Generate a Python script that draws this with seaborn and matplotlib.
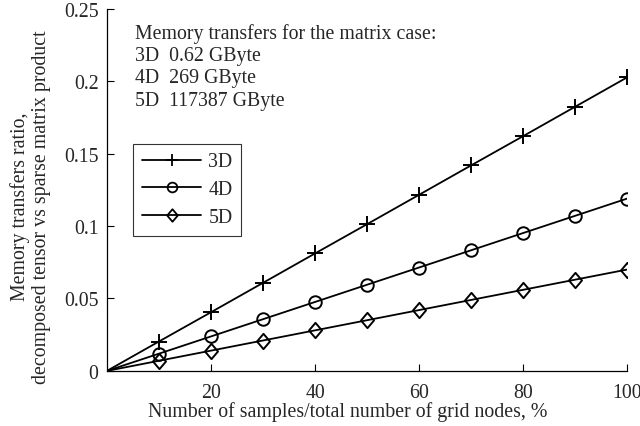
import matplotlib
matplotlib.use("Agg")
import matplotlib.pyplot as plt
from matplotlib.path import Path
import seaborn as sns
import pandas as pd

x = [0, 10, 20, 30, 40, 50, 60, 70, 80, 90, 100]
y3 = [0, 0.0203, 0.0405, 0.0608, 0.0811, 0.1013, 0.1216, 0.1419, 0.1621, 0.1824, 0.2027]
y4 = [0, 0.0119, 0.0238, 0.0357, 0.0476, 0.0595, 0.0714, 0.0833, 0.0952, 0.1071, 0.1190]
y5 = [0, 0.0070, 0.0140, 0.0210, 0.0280, 0.0350, 0.0420, 0.0490, 0.0560, 0.0630, 0.0700]
series = ["3D", "4D", "5D"]
notes = ["Memory transfers for the matrix case:", "3D  0.62 GByte", "4D  269 GByte", "5D  117387 GByte"]
xticks = [20, 40, 60, 80, 100]
yticks = [0, 0.05, 0.1, 0.15, 0.2, 0.25]
ytick_labels = ["0", "0.05", "0.1", "0.15", "0.2", "0.25"]

sns.set_style("ticks")
plt.rcParams["font.family"] = ["Liberation Serif", "DejaVu Serif"]

diamond = Path([(0, 1), (0.85, 0), (0, -1), (-0.85, 0), (0, 1)],
               [Path.MOVETO, Path.LINETO, Path.LINETO, Path.LINETO, Path.CLOSEPOLY])
markers = ["+", "o", diamond]
msizes = [12, 9, 11]
leg_msizes = [9, 7, 9]

fig = plt.figure(figsize=(6.4, 4.27), dpi=100)
ax = fig.add_axes([0.167, 0.129, 0.813, 0.848])

for name, ys, m, ms in zip(series, [y3, y4, y5], markers, msizes):
    df = pd.DataFrame({"x": x, "y": ys})
    sns.lineplot(data=df, x="x", y="y", ax=ax, color="black", lw=1.3, label=name)
    line = ax.lines[-1]
    line.set_marker(m)
    line.set_markevery(list(range(1, len(x))))
    line.set_markerfacecolor("none")
    line.set_markeredgecolor("black")
    line.set_markeredgewidth(1.4)
    line.set_markersize(ms)

ax.set_xlim(0, 100)
ax.set_ylim(0, 0.25)
ax.set_xticks(xticks)
ax.set_xticklabels([str(t) for t in xticks])
ax.set_yticks(yticks)
ax.set_yticklabels(ytick_labels)
ax.tick_params(direction="in", length=5, labelsize=14.3, color="black", width=0.8)
ax.tick_params(axis="x", pad=9)
ax.tick_params(axis="y", pad=6)
for s in ["top", "right"]:
    ax.spines[s].set_visible(False)
for s in ["left", "bottom"]:
    ax.spines[s].set_linewidth(0.9)
    ax.spines[s].set_color("black")

ax.set_xlabel("Number of samples/total number of grid nodes, %", fontsize=14.3)
ax.xaxis.set_label_coords(0.463, -0.083)
ax.set_ylabel("Memory transfers ratio,\ndecomposed tensor vs sparse matrix product", fontsize=14.3,
              linespacing=1.15)
ax.yaxis.set_label_coords(-0.108, 0.455)

for i, t in enumerate(notes):
    ax.text(0.054, 0.933 - i * 0.062, t, transform=ax.transAxes, fontsize=14.3, va="center")

leg = ax.legend(loc="upper left", bbox_to_anchor=(0.05, 0.628), fontsize=14.3, frameon=True,
                fancybox=False, edgecolor="black", handlelength=3.0, handletextpad=0.35,
                borderpad=0.45, labelspacing=0.45, borderaxespad=0.0)
leg.get_frame().set_linewidth(0.8)
for h, ms in zip(leg.get_lines(), leg_msizes):
    h.set_markersize(ms)
    h.set_markeredgewidth(1.3)

fig.savefig("out.png", dpi=100)
